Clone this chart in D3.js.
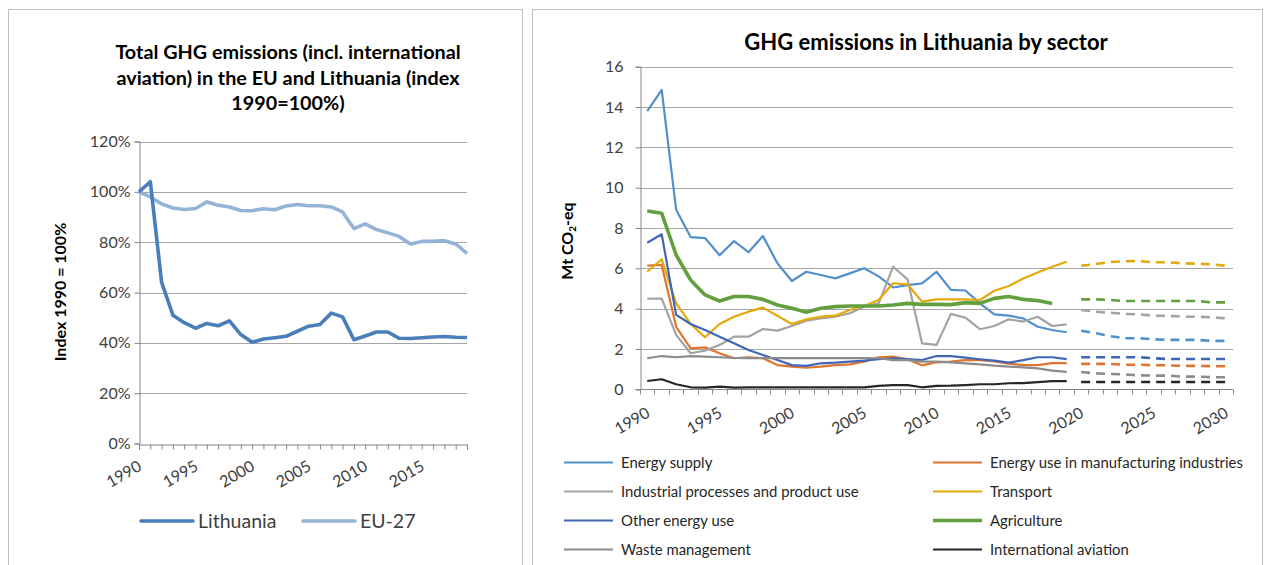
<!DOCTYPE html>
<html>
<head>
<meta charset="utf-8">
<script src="https://cdn.jsdelivr.net/npm/d3@7"></script>
<style>
    body { margin: 0; background: #fff; }
    svg { display: block; font-family: Lato, "Open Sans", sans-serif; }
</style>
</head>
<body>
<div class="viz"></div>
<script>
// categories
const years = d3.range(1990, 2020);
const all_years = d3.range(1990, 2031);
const proj_years = d3.range(2020, 2031);
const index_ticks = [0, 20, 40, 60, 80, 100, 120];
const index_year_ticks = [1990, 1995, 2000, 2005, 2010, 2015];
const sector_ticks = [0, 2, 4, 6, 8, 10, 12, 14, 16];
const sector_year_ticks = [1990, 1995, 2000, 2005, 2010, 2015, 2020, 2025, 2030];

// left chart, index 1990 = 100%
const lithuania = [100, 104, 64, 51, 48, 45.8, 47.7, 46.8, 48.7, 43.3, 40.2, 41.5, 42, 42.6, 44.6, 46.6, 47.3, 51.8, 50.3, 41.2, 42.7, 44.3, 44.3, 41.8, 41.7, 42, 42.3, 42.5, 42.2, 42.1];
const eu27 = [100, 98, 95.2, 93.6, 93, 93.4, 96, 94.7, 94, 92.6, 92.5, 93.3, 92.9, 94.4, 95, 94.5, 94.5, 94, 92, 85.4, 87.3, 85, 83.7, 82.3, 79.3, 80.3, 80.3, 80.6, 79.3, 75.5];

// right chart, Mt CO2-eq (historical 1990-2019, projections 2020-2030)
const energy_supply = [13.8, 14.85, 8.9, 7.55, 7.5, 6.65, 7.35, 6.8, 7.6, 6.25, 5.37, 5.83, 5.67, 5.5, 5.75, 6.0, 5.6, 5.05, 5.17, 5.25, 5.83, 4.93, 4.9, 4.26, 3.72, 3.65, 3.52, 3.1, 2.94, 2.83];
const energy_supply_proj = [2.9, 2.78, 2.64, 2.53, 2.53, 2.48, 2.45, 2.45, 2.45, 2.4, 2.4];
const manufacturing = [6.13, 6.17, 3.1, 2.03, 2.08, 1.79, 1.54, 1.59, 1.54, 1.2, 1.12, 1.07, 1.12, 1.2, 1.24, 1.37, 1.59, 1.62, 1.49, 1.19, 1.34, 1.37, 1.45, 1.45, 1.38, 1.27, 1.2, 1.2, 1.3, 1.3];
const manufacturing_proj = [1.26, 1.26, 1.26, 1.22, 1.22, 1.19, 1.19, 1.16, 1.16, 1.15, 1.14];
const industrial = [4.5, 4.5, 2.7, 1.79, 1.92, 2.2, 2.61, 2.61, 2.99, 2.91, 3.14, 3.4, 3.52, 3.6, 3.77, 4.1, 4.26, 6.08, 5.45, 2.28, 2.2, 3.74, 3.55, 2.98, 3.14, 3.47, 3.36, 3.6, 3.14, 3.22];
const industrial_proj = [3.93, 3.85, 3.8, 3.74, 3.72, 3.65, 3.65, 3.6, 3.6, 3.57, 3.52];
const transport = [5.83, 6.45, 4.26, 3.24, 2.58, 3.24, 3.6, 3.85, 4.05, 3.65, 3.24, 3.47, 3.6, 3.65, 3.93, 4.13, 4.43, 5.26, 5.2, 4.35, 4.46, 4.46, 4.46, 4.43, 4.89, 5.12, 5.5, 5.79, 6.08, 6.33];
const transport_proj = [6.13, 6.21, 6.31, 6.35, 6.36, 6.3, 6.3, 6.25, 6.23, 6.2, 6.13];
const other_energy = [7.27, 7.69, 3.69, 3.24, 2.94, 2.61, 2.28, 1.95, 1.7, 1.45, 1.2, 1.16, 1.29, 1.32, 1.37, 1.42, 1.49, 1.54, 1.5, 1.45, 1.65, 1.65, 1.57, 1.49, 1.42, 1.32, 1.45, 1.59, 1.59, 1.5];
const other_energy_proj = [1.59, 1.59, 1.59, 1.59, 1.59, 1.54, 1.5, 1.5, 1.5, 1.5, 1.5];
const agriculture = [8.84, 8.73, 6.66, 5.42, 4.68, 4.38, 4.6, 4.6, 4.46, 4.18, 4.02, 3.82, 4.02, 4.1, 4.13, 4.13, 4.13, 4.18, 4.26, 4.21, 4.21, 4.2, 4.3, 4.26, 4.51, 4.6, 4.46, 4.4, 4.26];
const agriculture_proj = [4.46, 4.46, 4.43, 4.38, 4.38, 4.38, 4.38, 4.38, 4.38, 4.31, 4.31];
const waste = [1.54, 1.65, 1.59, 1.65, 1.62, 1.59, 1.56, 1.55, 1.55, 1.55, 1.55, 1.55, 1.55, 1.55, 1.55, 1.55, 1.54, 1.45, 1.45, 1.37, 1.37, 1.34, 1.29, 1.24, 1.17, 1.12, 1.09, 1.04, 0.93, 0.86];
const waste_proj = [0.86, 0.79, 0.76, 0.74, 0.69, 0.68, 0.68, 0.63, 0.63, 0.6, 0.6];
const aviation = [0.41, 0.5, 0.25, 0.1, 0.08, 0.13, 0.08, 0.1, 0.1, 0.1, 0.1, 0.1, 0.1, 0.1, 0.1, 0.1, 0.17, 0.21, 0.21, 0.1, 0.17, 0.18, 0.21, 0.25, 0.25, 0.3, 0.31, 0.36, 0.41, 0.41];
const aviation_proj = [0.36, 0.36, 0.36, 0.36, 0.36, 0.36, 0.36, 0.36, 0.36, 0.36, 0.36];

const sector_names = [
    "Energy supply",
    "Energy use in manufacturing industries",
    "Industrial processes and product use",
    "Transport",
    "Other energy use",
    "Agriculture",
    "Waste management",
    "International aviation",
];
const sector_colors = ["#5290cc", "#de7530", "#a3a3a3", "#e3a90a", "#3f67b5", "#62a03e", "#8c8c8c", "#262626"];

var sectors = [
    [energy_supply, energy_supply_proj],
    [manufacturing, manufacturing_proj],
    [industrial, industrial_proj],
    [transport, transport_proj],
    [other_energy, other_energy_proj],
    [agriculture, agriculture_proj],
    [waste, waste_proj],
    [aviation, aviation_proj],
].map((d, i) => ({
    name: sector_names[i],
    color: sector_colors[i],
    width: sector_names[i] === "Agriculture" ? 3.6 : 2.2,
    hist: d[0].map((v, j) => ({ year: years[j], value: v })),
    proj: d[1].map((v, j) => ({ year: proj_years[j], value: v })),
}));

var width = 1265,
    height = 565,
    grid_color = "#a6a6a6",
    axis_color = "#868686",
    label_color = "#404040";

var svg = d3
    .select(".viz")
    .append("svg")
    .attr("width", width)
    .attr("height", height);

// panel frames (bottom edges run off the picture)
svg.append("rect")
    .attr("x", 8.5).attr("y", 9.5)
    .attr("width", 514).attr("height", 600)
    .attr("fill", "none").attr("stroke", "#bfbfbf");
svg.append("rect")
    .attr("x", 532.5).attr("y", 9.5)
    .attr("width", 730).attr("height", 600)
    .attr("fill", "none").attr("stroke", "#bfbfbf");

/**
 * Left chart: index 1990 = 100%
 */
var x1 = d3.scalePoint().domain(years).range([139, 467]);
var y1 = d3.scaleLinear().domain([0, 120]).range([443.5, 141.5]);

var left = svg.append("g").attr("id", "index-chart");

left.append("g")
    .attr("class", "grid")
    .selectAll("line")
    .data(index_ticks.filter((t) => t > 0))
    .enter()
    .append("line")
    .attr("x1", 139).attr("x2", 467)
    .attr("y1", (d) => Math.round(y1(d)) + 0.5)
    .attr("y2", (d) => Math.round(y1(d)) + 0.5)
    .attr("stroke", grid_color);

var y1_axis = left.append("g")
    .attr("transform", "translate(139.5,0)")
    .call(d3.axisLeft(y1).tickValues(index_ticks).tickSize(5).tickFormat((d) => d + "%"));
y1_axis.selectAll("text").attr("x", -9).style("font-size", "16px");

var x1_axis = left.append("g")
    .attr("transform", `translate(0,${Math.round(y1(0)) + 0.5})`)
    .call(d3.axisBottom(x1).tickSize(5).tickFormat(""));
x1_axis.selectAll("text").remove();

left.append("g")
    .selectAll("text")
    .data(index_year_ticks)
    .enter()
    .append("text")
    .attr("transform", (d) => `translate(${x1(d) - 2},${y1(0) + 16}) rotate(-30)`)
    .attr("text-anchor", "end")
    .attr("dy", "0.71em")
    .style("font-size", "16px")
    .attr("fill", label_color)
    .text((d) => d);

var line1 = d3.line().x((d, i) => x1(years[i])).y((d) => y1(d));

left.append("path")
    .datum(eu27)
    .attr("d", line1)
    .attr("fill", "none")
    .attr("stroke", "#95b3d7")
    .attr("stroke-width", 3.6)
    .attr("stroke-linejoin", "round");
left.append("path")
    .datum(lithuania)
    .attr("d", line1)
    .attr("fill", "none")
    .attr("stroke", "#4a7ebb")
    .attr("stroke-width", 3.6)
    .attr("stroke-linejoin", "round");

left.append("text")
    .attr("text-anchor", "middle")
    .attr("fill", "#000")
    .style("font-size", "19.8px")
    .style("font-weight", "bold")
    .selectAll("tspan")
    .data(["Total GHG emissions (incl. international", "aviation) in the EU and Lithuania (index", "1990=100%)"])
    .enter()
    .append("tspan")
    .attr("x", 288)
    .attr("y", (d, i) => 59 + i * 25.5)
    .text((d) => d);

left.append("text")
    .attr("transform", "translate(66,292) rotate(-90)")
    .attr("text-anchor", "middle")
    .style("font-size", "16px")
    .style("font-weight", "bold")
    .text("Index 1990  = 100%");

var legend1 = left.append("g").attr("transform", "translate(0,521)");
[["Lithuania", "#4a7ebb", 141], ["EU-27", "#95b3d7", 303]].forEach(([name, color, lx]) => {
    legend1.append("line")
        .attr("x1", lx).attr("x2", lx + 52)
        .attr("stroke", color).attr("stroke-width", 3.6)
        .attr("stroke-linecap", "round");
    legend1.append("text")
        .attr("x", lx + 57).attr("dy", "0.35em")
        .style("font-size", "19.5px")
        .attr("fill", label_color)
        .text(name);
});

/**
 * Right chart: GHG emissions by sector
 */
var x2 = d3.scaleBand().domain(all_years).range([640, 1233]);
var y2 = d3.scaleLinear().domain([0, 16]).range([389.3, 66.7]);
var xc = (yr) => x2(yr) + x2.bandwidth() / 2;

var right = svg.append("g").attr("id", "sector-chart");

right.append("g")
    .attr("class", "grid")
    .selectAll("line")
    .data(sector_ticks.filter((t) => t > 0))
    .enter()
    .append("line")
    .attr("x1", 640).attr("x2", 1233)
    .attr("y1", (d) => Math.round(y2(d)) + 0.5)
    .attr("y2", (d) => Math.round(y2(d)) + 0.5)
    .attr("stroke", grid_color);

var y2_axis = right.append("g")
    .attr("transform", "translate(640.5,0)")
    .call(d3.axisLeft(y2).tickValues(sector_ticks).tickSize(5));
y2_axis.selectAll("text").attr("x", -17).style("font-size", "16px");

// category axis with ticks between categories
var x2_axis = right.append("g")
    .attr("transform", `translate(0,${Math.round(y2(0)) + 0.5})`);
x2_axis.append("line")
    .attr("x1", 640).attr("x2", 1233)
    .attr("stroke", axis_color);
x2_axis.selectAll("line.tick")
    .data(all_years.concat([2031]))
    .enter()
    .append("line")
    .attr("class", "tick")
    .attr("x1", (d) => Math.round(d === 2031 ? 1233 : x2(d)) + 0.5)
    .attr("x2", (d) => Math.round(d === 2031 ? 1233 : x2(d)) + 0.5)
    .attr("y2", 5)
    .attr("stroke", axis_color);

right.append("g")
    .selectAll("text")
    .data(sector_year_ticks)
    .enter()
    .append("text")
    .attr("transform", (d) => `translate(${xc(d) - 2},${y2(0) + 17}) rotate(-30)`)
    .attr("text-anchor", "end")
    .attr("dy", "0.71em")
    .style("font-size", "16px")
    .attr("fill", label_color)
    .text((d) => d);

var line2 = d3.line().x((d) => xc(d.year)).y((d) => y2(d.value));

var series = right.append("g")
    .selectAll("g")
    .data(sectors)
    .enter()
    .append("g");

series.append("path")
    .attr("d", (d) => line2(d.hist))
    .attr("fill", "none")
    .attr("stroke", (d) => d.color)
    .attr("stroke-width", (d) => d.width)
    .attr("stroke-linejoin", "round");

series.append("path")
    .attr("d", (d) => line2(d.proj))
    .attr("fill", "none")
    .attr("stroke", (d) => d.color)
    .attr("stroke-width", 2.6)
    .attr("stroke-dasharray", "9,6");

right.append("text")
    .attr("x", 926).attr("y", 50)
    .attr("text-anchor", "middle")
    .style("font-size", "22px")
    .style("font-weight", "bold")
    .text("GHG emissions in Lithuania by sector");

var ylab = right.append("text")
    .attr("transform", "translate(573,241) rotate(-90)")
    .attr("text-anchor", "middle")
    .style("font-size", "16px")
    .style("font-weight", "bold");
ylab.append("tspan").text("Mt CO");
ylab.append("tspan").attr("dy", 3).style("font-size", "10px").text("2");
ylab.append("tspan").attr("dy", -3).text("-eq");

var legend2 = right.append("g")
    .selectAll("g")
    .data(sectors)
    .enter()
    .append("g")
    .attr("transform", (d, i) => `translate(${i % 2 === 0 ? 564 : 933},${462.5 + Math.floor(i / 2) * 29})`);

legend2.append("line")
    .attr("x2", 49)
    .attr("stroke", (d) => d.color)
    .attr("stroke-width", (d) => d.width);

legend2.append("text")
    .attr("x", 57)
    .attr("dy", "0.35em")
    .style("font-size", "14.9px")
    .attr("fill", "#262626")
    .text((d) => d.name);

// axis styling
svg.selectAll(".domain, .tick line").attr("stroke", axis_color);
svg.selectAll(".tick text").attr("fill", label_color).style("font-family", "Lato, sans-serif");
</script>
</body>
</html>
